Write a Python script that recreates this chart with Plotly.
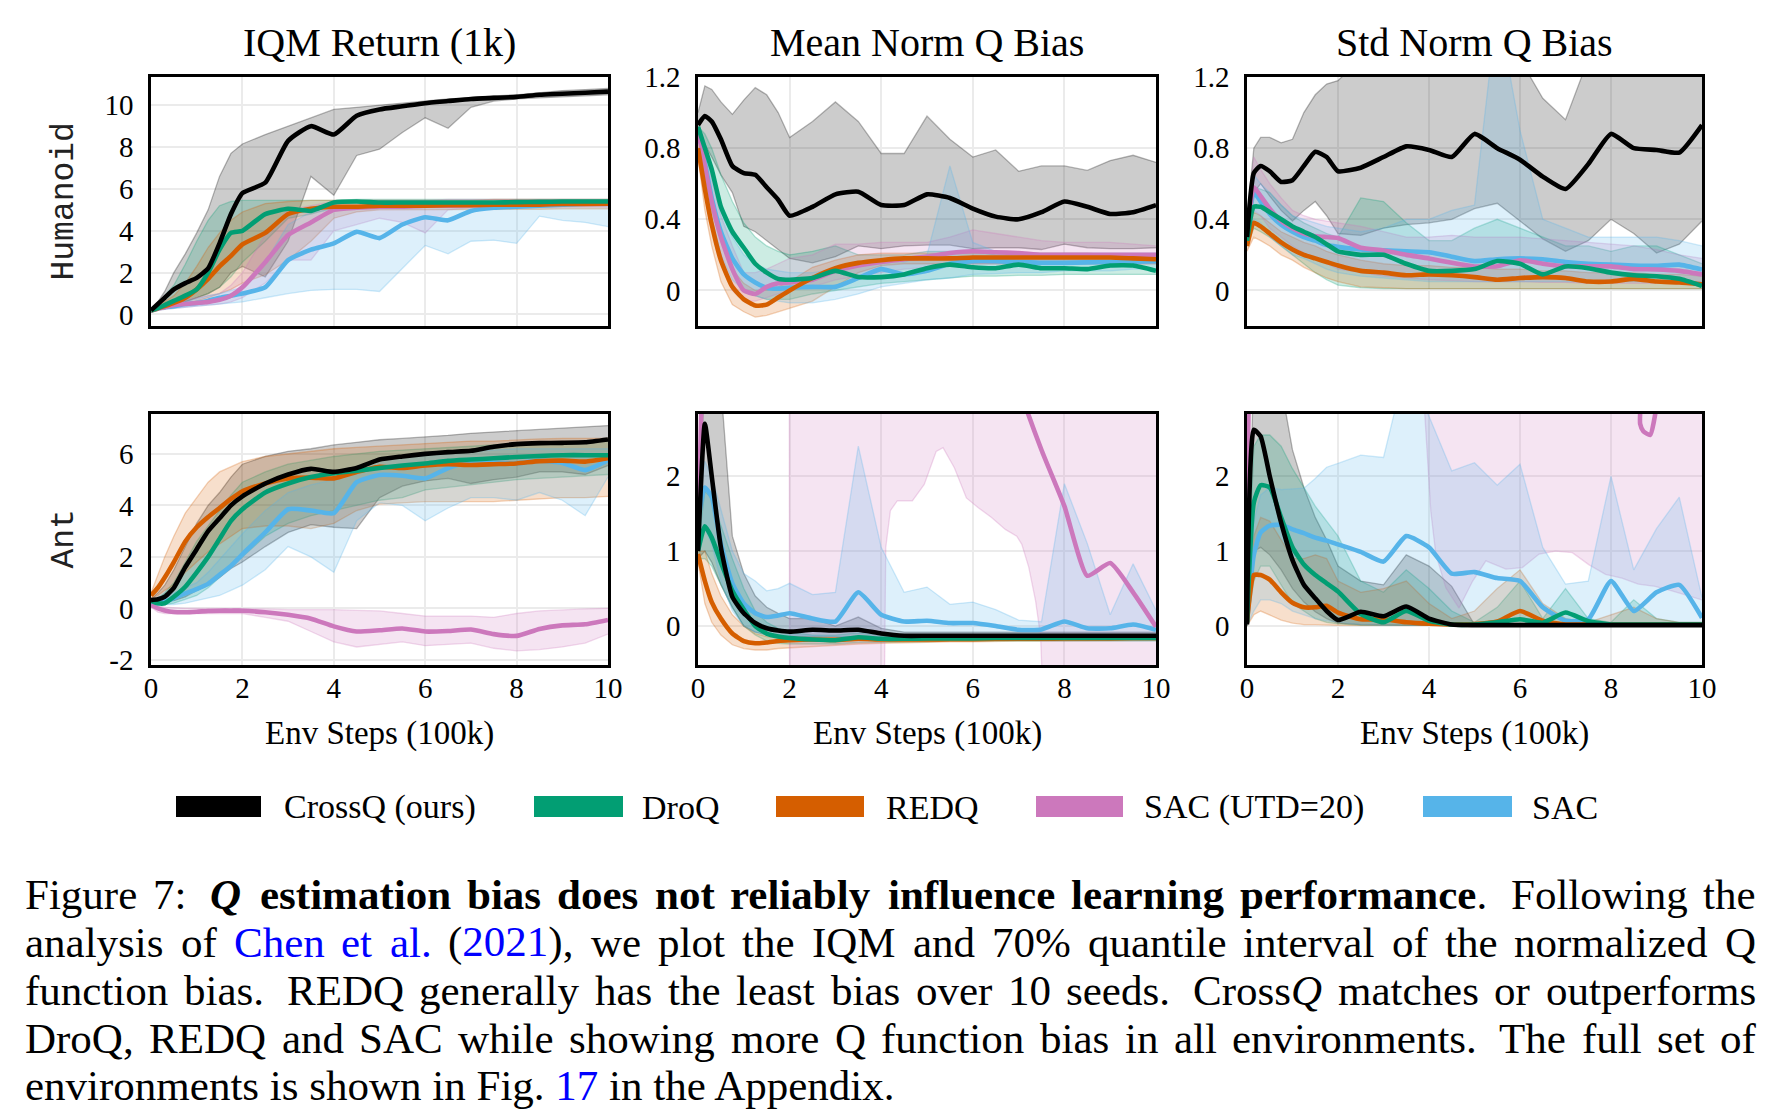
import plotly.graph_objects as go

# ---------------- shared x grid (Env Steps, 100k) ----------------
X = [0, 0.15, 0.3, 0.5, 0.75, 1.0, 1.25, 1.5, 1.75, 2.0, 2.5, 3.0, 3.5, 4.0, 4.5,
     5.0, 5.5, 6.0, 6.5, 7.0, 7.5, 8.0, 8.5, 9.0, 9.5, 10.0]

SERIES = ["CrossQ (ours)", "DroQ", "REDQ", "SAC (UTD=20)", "SAC"]
COLORS = ["#000000", "#029e73", "#d55e00", "#cc78bc", "#56b4e9"]

COL_TITLES = ["IQM Return (1k)", "Mean Norm Q Bias", "Std Norm Q Bias"]
ROW_LABELS = ["Humanoid", "Ant"]
X_TITLE = "Env Steps (100k)"
X_TICKS = [0, 2, 4, 6, 8, 10]

# ---------------- Humanoid : IQM Return ----------------
HUM_RET_CROSSQ = [0.2, 0.5, 0.8, 1.2, 1.5, 1.75, 2.2, 3.4, 4.8, 5.8, 6.3, 8.3, 9.0, 8.6, 9.5, 9.8, 9.95, 10.1, 10.2, 10.3, 10.35, 10.4, 10.5, 10.55, 10.6, 10.65]
HUM_RET_CROSSQ_LO = [0.1, 0.2, 0.35, 0.5, 0.6, 0.8, 1.0, 1.3, 2.0, 2.3, 1.8, 3.5, 6.6, 5.7, 7.6, 7.9, 8.7, 9.4, 8.9, 9.9, 10.2, 10.3, 10.35, 10.4, 10.45, 10.5]
HUM_RET_CROSSQ_HI = [0.2, 0.6, 1.1, 2.0, 2.9, 3.9, 5.0, 6.6, 7.7, 8.15, 8.6, 9.0, 9.4, 9.8, 9.9, 10.0, 10.1, 10.2, 10.3, 10.35, 10.45, 10.5, 10.6, 10.7, 10.75, 10.8]
HUM_RET_DROQ = [0.2, 0.3, 0.45, 0.65, 0.9, 1.2, 2.0, 3.1, 3.9, 4.0, 4.8, 5.05, 4.95, 5.35, 5.4, 5.35, 5.35, 5.35, 5.35, 5.35, 5.35, 5.37, 5.38, 5.4, 5.4, 5.4]
HUM_RET_DROQ_LO = [0.1, 0.2, 0.3, 0.45, 0.6, 0.8, 1.0, 1.3, 1.8, 2.5, 3.5, 4.6, 4.8, 5.1, 5.2, 5.2, 5.2, 5.22, 5.22, 5.22, 5.22, 5.25, 5.25, 5.25, 5.25, 5.25]
HUM_RET_DROQ_HI = [0.2, 0.5, 0.9, 1.4, 2.4, 3.5, 4.5, 5.2, 5.4, 5.45, 5.45, 5.45, 5.45, 5.45, 5.5, 5.5, 5.5, 5.5, 5.5, 5.5, 5.5, 5.5, 5.5, 5.5, 5.5, 5.5]
HUM_RET_REDQ = [0.2, 0.3, 0.4, 0.55, 0.8, 1.2, 1.7, 2.3, 2.8, 3.35, 3.9, 4.8, 5.05, 5.15, 5.15, 5.2, 5.2, 5.2, 5.22, 5.22, 5.25, 5.25, 5.25, 5.28, 5.28, 5.3]
HUM_RET_REDQ_LO = [0.1, 0.2, 0.3, 0.4, 0.5, 0.65, 0.8, 1.0, 1.2, 1.5, 1.9, 2.6, 3.5, 4.6, 4.9, 5.0, 5.0, 5.0, 5.0, 5.02, 5.02, 5.03, 5.03, 5.05, 5.05, 5.05]
HUM_RET_REDQ_HI = [0.2, 0.4, 0.6, 0.9, 1.5, 2.3, 3.2, 3.9, 4.5, 4.9, 5.3, 5.4, 5.45, 5.45, 5.45, 5.45, 5.45, 5.45, 5.45, 5.45, 5.5, 5.5, 5.5, 5.5, 5.5, 5.5]
HUM_RET_SAC20 = [0.2, 0.3, 0.35, 0.45, 0.5, 0.55, 0.6, 0.7, 0.9, 1.3, 2.5, 3.8, 4.4, 5.0, 5.1, 5.15, 5.15, 5.2, 5.2, 5.22, 5.25, 5.28, 5.3, 5.32, 5.35, 5.35]
HUM_RET_SAC20_LO = [0.1, 0.2, 0.25, 0.3, 0.35, 0.4, 0.45, 0.5, 0.6, 0.8, 1.5, 2.6, 2.6, 4.0, 4.3, 4.6, 4.4, 3.9, 5.0, 5.1, 5.1, 5.12, 5.12, 5.15, 5.15, 5.15]
HUM_RET_SAC20_HI = [0.25, 0.4, 0.5, 0.6, 0.7, 0.8, 0.9, 1.0, 1.4, 2.0, 3.8, 5.0, 5.2, 5.4, 5.45, 5.45, 5.45, 5.45, 5.5, 5.5, 5.5, 5.5, 5.5, 5.5, 5.5, 5.5]
HUM_RET_SAC = [0.2, 0.3, 0.35, 0.4, 0.5, 0.55, 0.65, 0.8, 0.9, 1.0, 1.3, 2.6, 3.1, 3.4, 3.95, 3.65, 4.3, 4.65, 4.5, 4.95, 5.1, 5.15, 5.2, 5.25, 5.3, 5.3]
HUM_RET_SAC_LO = [0.1, 0.2, 0.25, 0.3, 0.35, 0.4, 0.45, 0.5, 0.55, 0.6, 0.8, 1.0, 1.15, 1.2, 1.2, 1.1, 2.2, 3.3, 2.9, 3.5, 3.55, 3.4, 4.7, 4.5, 4.4, 4.2]
HUM_RET_SAC_HI = [0.25, 0.35, 0.4, 0.5, 0.6, 0.75, 0.9, 1.0, 1.15, 1.3, 2.5, 4.3, 4.9, 5.0, 5.1, 5.2, 5.25, 5.3, 5.3, 5.35, 5.35, 5.4, 5.4, 5.4, 5.4, 5.4]

# ---------------- Humanoid : Mean Norm Q Bias ----------------
HUM_MEAN_CROSSQ = [0.93, 0.98, 0.95, 0.85, 0.7, 0.66, 0.65, 0.58, 0.51, 0.42, 0.47, 0.54, 0.555, 0.48, 0.48, 0.54, 0.52, 0.46, 0.415, 0.4, 0.44, 0.5, 0.47, 0.43, 0.44, 0.48]
HUM_MEAN_CROSSQ_LO = [0.88, 0.82, 0.75, 0.65, 0.55, 0.36, 0.33, 0.28, 0.23, 0.18, 0.155, 0.19, 0.25, 0.235, 0.25, 0.255, 0.255, 0.235, 0.24, 0.24, 0.23, 0.26, 0.24, 0.235, 0.235, 0.24]
HUM_MEAN_CROSSQ_HI = [1.0, 1.15, 1.13, 1.06, 0.99, 1.07, 1.14, 1.1, 1.0, 0.86, 0.95, 1.06, 0.95, 0.77, 0.77, 0.98, 0.85, 0.75, 0.79, 0.67, 0.7, 0.7, 0.675, 0.73, 0.76, 0.72]
HUM_MEAN_DROQ = [0.92, 0.8, 0.68, 0.47, 0.33, 0.24, 0.15, 0.1, 0.065, 0.06, 0.07, 0.11, 0.075, 0.075, 0.09, 0.125, 0.145, 0.13, 0.125, 0.145, 0.125, 0.125, 0.12, 0.14, 0.14, 0.11]
HUM_MEAN_DROQ_LO = [0.9, 0.7, 0.5, 0.3, 0.1, 0.0, -0.03, -0.05, -0.05, -0.05, -0.02, 0.0, 0.02, 0.04, 0.05, 0.06, 0.07, 0.08, 0.08, 0.085, 0.085, 0.09, 0.09, 0.09, 0.09, 0.09]
HUM_MEAN_DROQ_HI = [0.92, 0.88, 0.8, 0.65, 0.5, 0.38, 0.3, 0.25, 0.22, 0.2, 0.22, 0.25, 0.2, 0.2, 0.2, 0.22, 0.22, 0.22, 0.2, 0.2, 0.2, 0.19, 0.19, 0.19, 0.18, 0.18]
HUM_MEAN_REDQ = [0.8, 0.57, 0.37, 0.17, 0.02, -0.05, -0.085, -0.08, -0.04, 0.0, 0.07, 0.125, 0.155, 0.17, 0.18, 0.18, 0.18, 0.185, 0.185, 0.185, 0.185, 0.185, 0.185, 0.185, 0.18, 0.175]
HUM_MEAN_REDQ_LO = [0.75, 0.45, 0.25, 0.05, -0.08, -0.12, -0.15, -0.14, -0.12, -0.1, -0.06, 0.02, 0.1, 0.14, 0.15, 0.15, 0.15, 0.15, 0.15, 0.15, 0.15, 0.15, 0.15, 0.15, 0.15, 0.15]
HUM_MEAN_REDQ_HI = [0.82, 0.65, 0.45, 0.28, 0.12, 0.04, 0.0, 0.0, 0.02, 0.05, 0.13, 0.17, 0.2, 0.21, 0.21, 0.21, 0.21, 0.21, 0.21, 0.21, 0.21, 0.21, 0.21, 0.2, 0.2, 0.2]
HUM_MEAN_SAC20 = [0.9, 0.7, 0.5, 0.3, 0.12, 0.0, -0.02, 0.02, 0.04, 0.045, 0.06, 0.11, 0.14, 0.16, 0.175, 0.19, 0.21, 0.22, 0.215, 0.21, 0.2, 0.2, 0.2, 0.2, 0.2, 0.2]
HUM_MEAN_SAC20_LO = [0.88, 0.6, 0.4, 0.2, 0.0, -0.06, -0.06, -0.04, -0.02, 0.0, 0.02, 0.06, 0.08, 0.1, 0.12, 0.13, 0.14, 0.15, 0.15, 0.15, 0.15, 0.15, 0.15, 0.15, 0.15, 0.15]
HUM_MEAN_SAC20_HI = [0.92, 0.8, 0.62, 0.42, 0.25, 0.1, 0.1, 0.12, 0.15, 0.18, 0.2, 0.26, 0.26, 0.27, 0.27, 0.27, 0.3, 0.34, 0.32, 0.3, 0.28, 0.27, 0.27, 0.27, 0.26, 0.25]
HUM_MEAN_SAC = [0.9, 0.72, 0.52, 0.33, 0.18, 0.09, 0.045, 0.015, 0.01, 0.015, 0.02, 0.02, 0.07, 0.12, 0.09, 0.11, 0.15, 0.165, 0.165, 0.16, 0.155, 0.155, 0.158, 0.16, 0.162, 0.165]
HUM_MEAN_SAC_LO = [0.88, 0.6, 0.4, 0.2, 0.06, 0.0, -0.03, -0.05, -0.06, -0.07, -0.07, -0.05, -0.02, 0.02, 0.04, 0.06, 0.07, 0.09, 0.095, 0.1, 0.1, 0.11, 0.11, 0.11, 0.12, 0.12]
HUM_MEAN_SAC_HI = [0.92, 0.82, 0.65, 0.45, 0.3, 0.2, 0.15, 0.12, 0.11, 0.1, 0.1, 0.12, 0.15, 0.18, 0.16, 0.2, 0.7, 0.27, 0.22, 0.21, 0.21, 0.21, 0.21, 0.21, 0.21, 0.21]

# ---------------- Humanoid : Std Norm Q Bias ----------------
HUM_STD_CROSSQ = [0.3, 0.66, 0.7, 0.67, 0.61, 0.62, 0.7, 0.78, 0.75, 0.67, 0.69, 0.75, 0.81, 0.79, 0.75, 0.88, 0.8, 0.735, 0.64, 0.57, 0.71, 0.88, 0.8, 0.79, 0.775, 0.93]
HUM_STD_CROSSQ_LO = [0.25, 0.55, 0.6, 0.53, 0.45, 0.39, 0.45, 0.5, 0.42, 0.32, 0.31, 0.35, 0.37, 0.38, 0.4, 0.46, 0.49, 0.39, 0.29, 0.22, 0.28, 0.4, 0.32, 0.21, 0.26, 0.39]
HUM_STD_CROSSQ_HI = [0.4, 0.8, 0.86, 0.86, 0.83, 0.85, 1.0, 1.1, 1.16, 1.18, 1.3, 1.3, 1.3, 1.3, 1.3, 1.3, 1.3, 1.3, 1.08, 0.96, 1.3, 1.3, 1.3, 1.3, 1.3, 1.3]
HUM_STD_DROQ = [0.28, 0.47, 0.47, 0.44, 0.4, 0.36, 0.33, 0.3, 0.26, 0.22, 0.2, 0.2, 0.15, 0.11, 0.11, 0.12, 0.165, 0.15, 0.09, 0.135, 0.125, 0.1, 0.085, 0.08, 0.065, 0.025]
HUM_STD_DROQ_LO = [0.25, 0.35, 0.33, 0.3, 0.25, 0.2, 0.15, 0.1, 0.06, 0.03, 0.015, 0.01, 0.01, 0.01, 0.01, 0.01, 0.01, 0.01, 0.01, 0.01, 0.01, 0.01, 0.01, 0.01, 0.01, 0.01]
HUM_STD_DROQ_HI = [0.3, 0.58, 0.57, 0.55, 0.48, 0.42, 0.38, 0.35, 0.32, 0.3, 0.52, 0.5, 0.38, 0.28, 0.28, 0.35, 0.4, 0.35, 0.3, 0.25, 0.25, 0.22, 0.25, 0.25, 0.2, 0.15]
HUM_STD_REDQ = [0.25, 0.38, 0.36, 0.32, 0.27, 0.23, 0.2, 0.18, 0.16, 0.14, 0.11, 0.1, 0.085, 0.09, 0.085, 0.075, 0.06, 0.07, 0.075, 0.07, 0.05, 0.05, 0.065, 0.05, 0.045, 0.035]
HUM_STD_REDQ_LO = [0.22, 0.3, 0.28, 0.25, 0.2, 0.17, 0.13, 0.1, 0.07, 0.05, 0.02, 0.015, 0.01, 0.01, 0.01, 0.01, 0.01, 0.01, 0.01, 0.01, 0.01, 0.01, 0.01, 0.01, 0.01, 0.01]
HUM_STD_REDQ_HI = [0.27, 0.44, 0.42, 0.38, 0.33, 0.3, 0.27, 0.25, 0.22, 0.2, 0.17, 0.15, 0.14, 0.14, 0.13, 0.13, 0.12, 0.12, 0.11, 0.11, 0.1, 0.1, 0.1, 0.09, 0.09, 0.08]
HUM_STD_SAC20 = [0.3, 0.58, 0.53, 0.46, 0.39, 0.35, 0.32, 0.305, 0.3, 0.295, 0.24, 0.225, 0.2, 0.18, 0.155, 0.135, 0.136, 0.17, 0.15, 0.136, 0.136, 0.135, 0.12, 0.118, 0.11, 0.09]
HUM_STD_SAC20_LO = [0.25, 0.45, 0.42, 0.35, 0.3, 0.25, 0.21, 0.18, 0.15, 0.12, 0.1, 0.08, 0.07, 0.06, 0.055, 0.05, 0.05, 0.05, 0.045, 0.045, 0.04, 0.04, 0.04, 0.04, 0.04, 0.04]
HUM_STD_SAC20_HI = [0.35, 0.75, 0.68, 0.6, 0.52, 0.45, 0.42, 0.4, 0.39, 0.38, 0.36, 0.33, 0.3, 0.3, 0.31, 0.3, 0.3, 0.3, 0.29, 0.28, 0.27, 0.26, 0.25, 0.23, 0.2, 0.18]
HUM_STD_SAC = [0.3, 0.55, 0.5, 0.43, 0.37, 0.33, 0.3, 0.28, 0.255, 0.245, 0.23, 0.225, 0.22, 0.215, 0.19, 0.165, 0.175, 0.18, 0.175, 0.16, 0.15, 0.145, 0.14, 0.138, 0.145, 0.117]
HUM_STD_SAC_LO = [0.25, 0.4, 0.38, 0.3, 0.25, 0.2, 0.18, 0.15, 0.12, 0.1, 0.08, 0.07, 0.06, 0.05, 0.05, 0.05, 0.05, 0.05, 0.05, 0.05, 0.05, 0.05, 0.05, 0.05, 0.05, 0.05]
HUM_STD_SAC_HI = [0.35, 0.65, 0.6, 0.55, 0.48, 0.42, 0.4, 0.38, 0.36, 0.35, 0.33, 0.35, 0.4, 0.4, 0.45, 0.48, 1.6, 0.9, 0.4, 0.35, 0.3, 0.3, 0.3, 0.3, 0.28, 0.25]

# ---------------- Ant : IQM Return ----------------
ANT_RET_CROSSQ = [0.32, 0.35, 0.45, 0.8, 1.6, 2.3, 3.0, 3.5, 4.0, 4.35, 4.85, 5.2, 5.42, 5.3, 5.45, 5.78, 5.9, 6.0, 6.07, 6.12, 6.28, 6.38, 6.42, 6.43, 6.45, 6.56]
ANT_RET_CROSSQ_LO = [0.3, 0.25, 0.28, 0.3, 0.45, 0.7, 0.9, 1.2, 1.55, 1.8, 2.4, 2.95, 3.25, 3.15, 3.1, 4.3, 4.75, 4.95, 5.05, 4.85, 5.0, 5.1, 5.3, 5.3, 5.2, 5.55]
ANT_RET_CROSSQ_HI = [0.35, 0.6, 0.9, 1.5, 2.4, 3.3, 4.0, 4.5, 5.1, 5.6, 5.9, 6.1, 6.2, 6.35, 6.45, 6.55, 6.6, 6.65, 6.72, 6.8, 6.85, 6.9, 6.95, 7.0, 7.05, 7.1]
ANT_RET_DROQ = [0.3, 0.2, 0.2, 0.45, 0.84, 1.4, 2.0, 2.7, 3.4, 3.85, 4.5, 4.85, 5.1, 5.25, 5.35, 5.45, 5.55, 5.63, 5.73, 5.78, 5.83, 5.88, 5.92, 5.95, 5.95, 5.95]
ANT_RET_DROQ_LO = [0.25, 0.15, 0.15, 0.2, 0.35, 0.5, 0.8, 1.2, 1.6, 2.0, 2.8, 3.3, 3.6, 3.8, 4.0, 4.2, 4.3, 4.6, 4.7, 4.8, 4.9, 5.0, 5.05, 5.1, 5.15, 5.2]
ANT_RET_DROQ_HI = [0.3, 0.4, 0.6, 1.0, 1.8, 2.6, 3.2, 3.8, 4.4, 4.9, 5.3, 5.6, 5.75, 5.9, 6.0, 6.1, 6.15, 6.2, 6.25, 6.3, 6.35, 6.4, 6.42, 6.45, 6.48, 6.5]
ANT_RET_REDQ = [0.5, 0.8, 1.2, 1.8, 2.6, 3.15, 3.55, 3.9, 4.25, 4.55, 4.85, 5.05, 5.08, 5.05, 5.3, 5.5, 5.45, 5.55, 5.6, 5.57, 5.6, 5.63, 5.72, 5.74, 5.7, 5.83]
ANT_RET_REDQ_LO = [0.4, 0.5, 0.7, 0.9, 1.4, 1.8, 2.2, 2.5, 2.8, 3.1, 3.2, 3.2, 3.1, 3.3, 3.8, 4.05, 4.1, 4.15, 4.15, 4.15, 4.15, 4.2, 4.25, 4.3, 4.3, 4.35]
ANT_RET_REDQ_HI = [0.6, 1.3, 2.0, 2.8, 3.7, 4.3, 4.9, 5.3, 5.5, 5.7, 5.9, 6.0, 6.1, 6.2, 6.25, 6.3, 6.35, 6.4, 6.45, 6.5, 6.5, 6.55, 6.58, 6.6, 6.6, 6.6]
ANT_RET_SAC20 = [0.13, 0.0, -0.08, -0.14, -0.15, -0.13, -0.1, -0.09, -0.09, -0.09, -0.15, -0.25, -0.4, -0.7, -0.9, -0.85, -0.78, -0.9, -0.88, -0.82, -1.0, -1.07, -0.8, -0.66, -0.62, -0.45]
ANT_RET_SAC20_LO = [0.05, -0.15, -0.2, -0.2, -0.2, -0.2, -0.2, -0.2, -0.2, -0.2, -0.35, -0.5, -0.9, -1.3, -1.5, -1.4, -1.3, -1.45, -1.4, -1.35, -1.55, -1.65, -1.6, -1.5, -1.35, -1.0]
ANT_RET_SAC20_HI = [0.2, 0.1, 0.05, 0.02, 0.0, 0.0, 0.0, 0.0, 0.0, 0.0, -0.02, -0.05, -0.05, -0.05, -0.08, -0.1, -0.2, -0.3, -0.3, -0.3, -0.35, -0.2, -0.1, -0.05, -0.02, 0.0]
ANT_RET_SAC = [0.2, 0.2, 0.26, 0.4, 0.58, 0.75, 0.95, 1.3, 1.65, 2.1, 2.95, 3.85, 3.8, 3.7, 4.9, 5.18, 5.15, 5.05, 5.45, 5.72, 5.66, 5.63, 5.74, 5.65, 5.37, 5.76]
ANT_RET_SAC_LO = [0.15, 0.15, 0.15, 0.15, 0.2, 0.3, 0.4, 0.5, 0.7, 0.9, 1.5, 2.4, 2.0, 1.4, 3.4, 4.1, 4.0, 3.4, 3.9, 4.3, 4.3, 4.2, 4.5, 4.2, 3.6, 5.1]
ANT_RET_SAC_HI = [0.25, 0.3, 0.45, 0.6, 0.8, 1.0, 1.4, 1.9, 2.4, 2.9, 3.8, 4.5, 4.8, 5.0, 5.5, 5.8, 5.9, 6.0, 6.05, 6.1, 6.15, 6.2, 6.2, 6.2, 6.2, 6.2]

# ---------------- Ant : Mean Norm Q Bias ----------------
ANT_MEAN_CROSSQ = [1.0, 2.7, 2.0, 1.05, 0.39, 0.17, 0.04, -0.03, -0.06, -0.075, -0.05, -0.06, -0.05, -0.1, -0.13, -0.13, -0.13, -0.13, -0.13, -0.13, -0.13, -0.13, -0.13, -0.13, -0.13, -0.13]
ANT_MEAN_CROSSQ_LO = [0.9, 1.0, 0.85, 0.55, 0.25, 0.0, -0.08, -0.12, -0.13, -0.14, -0.14, -0.15, -0.15, -0.15, -0.15, -0.15, -0.15, -0.15, -0.15, -0.15, -0.15, -0.15, -0.15, -0.15, -0.15, -0.15]
ANT_MEAN_CROSSQ_HI = [1.1, 3.5, 3.5, 3.2, 1.2, 0.7, 0.4, 0.25, 0.17, 0.1, 0.1, 0.0, 0.12, -0.03, -0.08, -0.08, -0.08, -0.08, -0.08, -0.08, -0.08, -0.08, -0.08, -0.08, -0.08, -0.08]
ANT_MEAN_DROQ = [1.0, 1.33, 1.18, 0.85, 0.47, 0.22, 0.0, -0.1, -0.14, -0.16, -0.18, -0.19, -0.15, -0.17, -0.17, -0.165, -0.165, -0.165, -0.16, -0.16, -0.16, -0.16, -0.16, -0.16, -0.16, -0.16]
ANT_MEAN_DROQ_LO = [0.9, 0.9, 0.8, 0.55, 0.25, 0.0, -0.12, -0.2, -0.23, -0.24, -0.24, -0.24, -0.22, -0.22, -0.21, -0.21, -0.2, -0.2, -0.2, -0.2, -0.2, -0.2, -0.2, -0.2, -0.2, -0.2]
ANT_MEAN_DROQ_HI = [1.05, 1.8, 1.7, 1.35, 0.9, 0.5, 0.2, 0.05, -0.03, -0.08, -0.12, -0.12, -0.09, -0.12, -0.12, -0.12, -0.12, -0.12, -0.12, -0.12, -0.12, -0.12, -0.12, -0.12, -0.12, -0.12]
ANT_MEAN_REDQ = [0.96, 0.6, 0.32, 0.1, -0.1, -0.2, -0.23, -0.22, -0.2, -0.19, -0.18, -0.185, -0.17, -0.18, -0.18, -0.18, -0.175, -0.175, -0.17, -0.17, -0.17, -0.165, -0.165, -0.165, -0.16, -0.16]
ANT_MEAN_REDQ_LO = [0.85, 0.3, 0.05, -0.12, -0.25, -0.3, -0.32, -0.32, -0.3, -0.29, -0.27, -0.26, -0.24, -0.23, -0.22, -0.22, -0.21, -0.21, -0.2, -0.2, -0.2, -0.2, -0.19, -0.19, -0.19, -0.19]
ANT_MEAN_REDQ_HI = [1.0, 1.0, 0.7, 0.4, 0.15, 0.0, -0.1, -0.14, -0.16, -0.16, -0.16, -0.16, -0.15, -0.15, -0.15, -0.15, -0.15, -0.14, -0.14, -0.14, -0.14, -0.14, -0.14, -0.14, -0.14, -0.14]
ANT_MEAN_SAC20 = [1.0, 5.0, 8.0, 9.0, 9.0, 9.0, 9.0, 9.0, 9.0, 9.0, 9.0, 9.0, 9.0, 8.0, 7.0, 6.0, 5.5, 5.0, 4.2, 3.2, 2.35, 1.6, 0.67, 0.84, 0.45, -0.01]
ANT_MEAN_SAC20_BAND_X = [0, 1.99, 2.0, 4.05, 4.1, 4.2, 4.35, 4.68, 4.94, 5.2, 5.35, 5.6, 5.86, 6.12, 6.41, 6.71, 6.96, 7.07, 7.22, 7.37, 7.48, 7.6, 10]
ANT_MEAN_SAC20_LO = [5, 5, -2, -2, 1.05, 1.54, 1.67, 1.67, 1.89, 2.33, 2.38, 2.11, 1.71, 1.58, 1.45, 1.29, 1.2, 1.09, 0.79, 0.34, -0.14, -2, -2]
ANT_MEAN_SAC20_HI = [9, 9, 9, 9, 9, 9, 9, 9, 9, 9, 9, 9, 9, 9, 9, 9, 9, 9, 9, 9, 9, 9, 9]
ANT_MEAN_SAC = [1.4, 1.85, 1.72, 1.1, 0.57, 0.3, 0.17, 0.12, 0.14, 0.17, 0.1, 0.06, 0.45, 0.15, 0.06, 0.07, 0.04, 0.04, 0.0, -0.05, -0.045, 0.06, -0.03, -0.03, 0.02, -0.05]
ANT_MEAN_SAC_LO = [1.2, 1.3, 1.1, 0.6, 0.2, 0.0, -0.08, -0.1, -0.12, -0.12, -0.13, -0.14, -0.14, -0.15, -0.15, -0.15, -0.15, -0.15, -0.15, -0.15, -0.15, -0.15, -0.15, -0.15, -0.15, -0.15]
ANT_MEAN_SAC_HI = [1.5, 2.2, 2.0, 1.55, 1.0, 0.7, 0.6, 0.47, 0.5, 0.57, 0.42, 0.45, 2.4, 1.05, 0.45, 0.52, 0.29, 0.32, 0.22, 0.08, 0.057, 1.9, 1.1, 0.15, 0.83, 0.21]

# ---------------- Ant : Std Norm Q Bias ----------------
ANT_STD_CROSSQ = [0.02, 2.62, 2.53, 2.0, 1.38, 0.88, 0.55, 0.37, 0.2, 0.08, 0.19, 0.13, 0.26, 0.1, 0.02, 0.012, 0.012, 0.012, 0.012, 0.012, 0.012, 0.012, 0.012, 0.012, 0.012, 0.012]
ANT_STD_CROSSQ_LO = [0.0, 1.0, 1.05, 0.95, 0.75, 0.5, 0.32, 0.19, 0.1, 0.04, 0.02, 0.01, 0.01, 0.01, 0.01, 0.01, 0.01, 0.01, 0.01, 0.01, 0.01, 0.01, 0.01, 0.01, 0.01, 0.01]
ANT_STD_CROSSQ_HI = [0.1, 3.5, 3.5, 3.4, 3.2, 2.35, 1.85, 1.45, 1.15, 0.8, 0.6, 0.55, 0.95, 0.8, 0.53, 0.02, 0.015, 0.015, 0.015, 0.015, 0.015, 0.015, 0.015, 0.015, 0.015, 0.015]
ANT_STD_DROQ = [0.05, 1.65, 1.88, 1.85, 1.45, 1.05, 0.82, 0.68, 0.57, 0.46, 0.16, 0.05, 0.2, 0.07, 0.02, 0.02, 0.05, 0.09, 0.045, 0.18, 0.065, 0.02, 0.02, 0.02, 0.02, 0.02]
ANT_STD_DROQ_LO = [0.0, 0.6, 0.8, 0.8, 0.55, 0.3, 0.2, 0.1, 0.05, 0.03, 0.01, 0.01, 0.01, 0.01, 0.01, 0.01, 0.01, 0.01, 0.01, 0.01, 0.01, 0.01, 0.01, 0.01, 0.01, 0.01]
ANT_STD_DROQ_HI = [0.2, 2.4, 2.55, 2.55, 2.4, 2.1, 1.85, 1.6, 1.4, 1.2, 0.6, 0.45, 0.75, 0.5, 0.2, 0.05, 0.25, 0.6, 0.1, 0.5, 0.1, 0.05, 0.35, 0.1, 0.05, 0.05]
ANT_STD_REDQ = [0.05, 0.68, 0.68, 0.62, 0.45, 0.31, 0.25, 0.25, 0.27, 0.18, 0.09, 0.09, 0.05, 0.03, 0.02, 0.025, 0.06, 0.2, 0.07, 0.02, 0.02, 0.02, 0.02, 0.02, 0.02, 0.02]
ANT_STD_REDQ_LO = [0.0, 0.15, 0.2, 0.15, 0.08, 0.04, 0.02, 0.02, 0.01, 0.01, 0.01, 0.01, 0.01, 0.01, 0.01, 0.01, 0.01, 0.01, 0.01, 0.01, 0.01, 0.01, 0.01, 0.01, 0.01, 0.01]
ANT_STD_REDQ_HI = [0.1, 1.2, 1.45, 1.4, 1.15, 0.9, 0.9, 0.95, 0.9, 0.6, 0.45, 0.5, 0.6, 0.3, 0.1, 0.2, 0.5, 0.75, 0.3, 0.1, 0.05, 0.15, 0.25, 0.1, 0.05, 0.05]
ANT_STD_SAC20_X = [0, 0.05, 0.15, 8.55, 8.64, 8.71, 8.86, 9.0, 9.1, 10]
ANT_STD_SAC20 = [1.5, 3.5, 6.0, 6.0, 2.7, 2.6, 2.55, 2.95, 6.0, 6.0]
ANT_STD_SAC20_BAND_X = [0, 3.85, 3.9, 4.04, 4.15, 4.37, 4.66, 4.96, 5.25, 5.69, 6.05, 6.42, 6.78, 7.15, 7.51, 7.88, 8.24, 8.6, 8.97, 9.34, 10]
ANT_STD_SAC20_LO = [5, 5, 2.9, 1.53, 0.96, 0.51, 0.24, 0.6, 0.87, 0.76, 0.78, 0.96, 1.0, 0.98, 0.82, 0.69, 0.64, 0.56, 0.53, 0.47, 0.35]
ANT_STD_SAC20_HI = [9, 9, 9, 9, 9, 9, 9, 9, 9, 9, 9, 9, 9, 9, 9, 9, 9, 9, 9, 9, 9]
ANT_STD_SAC = [0.05, 0.95, 1.25, 1.34, 1.35, 1.29, 1.24, 1.18, 1.14, 1.09, 0.99, 0.86, 1.2, 1.05, 0.7, 0.72, 0.64, 0.6, 0.25, 0.07, 0.09, 0.6, 0.2, 0.45, 0.55, 0.11]
ANT_STD_SAC_LO = [0.0, 0.2, 0.35, 0.35, 0.3, 0.2, 0.15, 0.1, 0.07, 0.05, 0.02, 0.01, 0.01, 0.01, 0.01, 0.01, 0.01, 0.01, 0.01, 0.01, 0.01, 0.01, 0.01, 0.01, 0.01, 0.01]
ANT_STD_SAC_HI = [0.1, 1.4, 1.75, 1.85, 1.82, 1.83, 1.84, 1.97, 2.12, 2.17, 2.28, 2.25, 3.5, 2.8, 2.07, 2.18, 1.88, 2.16, 1.05, 0.56, 0.6, 2.0, 0.75, 1.3, 1.72, 0.38]

# ---------------- caption (justified lines as word tokens; style r/b/bi/i, optional link colour) ----------------
LINK = "#0000ff"
CAPTION_LINES = [
    [[("Figure", "r")], [("7:", "r")], [("Q", "bi")], [("estimation", "b")], [("bias", "b")],
     [("does", "b")], [("not", "b")], [("reliably", "b")], [("influence", "b")], [("learning", "b")],
     [("performance", "b"), (".", "r")], [("Following", "r")], [("the", "r")]],
    [[("analysis", "r")], [("of", "r")], [("Chen", "r", LINK)], [("et", "r", LINK)], [("al.", "r", LINK)],
     [("(", "r"), ("2021", "r", LINK), ("),", "r")], [("we", "r")], [("plot", "r")], [("the", "r")],
     [("IQM", "r")], [("and", "r")], [("70%", "r")], [("quantile", "r")], [("interval", "r")],
     [("of", "r")], [("the", "r")], [("normalized", "r")], [("Q", "r")]],
    [[("function", "r")], [("bias.", "r")], [("REDQ", "r")], [("generally", "r")], [("has", "r")],
     [("the", "r")], [("least", "r")], [("bias", "r")], [("over", "r")], [("10", "r")], [("seeds.", "r")],
     [("Cross", "r"), ("Q", "i")], [("matches", "r")], [("or", "r")], [("outperforms", "r")]],
    [[("DroQ,", "r")], [("REDQ", "r")], [("and", "r")], [("SAC", "r")], [("while", "r")], [("showing", "r")],
     [("more", "r")], [("Q", "r")], [("function", "r")], [("bias", "r")], [("in", "r")], [("all", "r")],
     [("environments.", "r")], [("The", "r")], [("full", "r")], [("set", "r")], [("of", "r")]],
]
CAPTION_LAST = "environments is shown in Fig. <span style='color:#0000ff'>17</span> in the Appendix."

# Times-compatible advance widths (per 1000 em) used to justify the caption lines
_LC = "abcdefghijklmnopqrstuvwxyz"
_UC = "ABCDEFGHIJKLMNOPQRSTUVWXYZ"
TNR_R = dict(zip(_LC, [444, 500, 444, 500, 444, 333, 500, 500, 278, 278, 500, 278, 778, 500, 500, 500, 500, 333,
                       389, 278, 500, 500, 722, 500, 500, 444]))
TNR_R.update(dict(zip(_UC, [722, 667, 667, 722, 611, 556, 722, 722, 333, 389, 722, 611, 889, 722, 722, 556, 722,
                            667, 556, 611, 722, 722, 944, 722, 722, 611])))
TNR_R.update({d: 500 for d in "0123456789"})
TNR_R.update({".": 250, ",": 250, ":": 278, "(": 333, ")": 333, "%": 833, " ": 250})
TNR_B = dict(zip(_LC, [500, 556, 444, 556, 444, 333, 500, 556, 278, 333, 556, 278, 833, 556, 500, 556, 556, 444,
                       389, 333, 556, 500, 722, 500, 500, 444]))
TNR_B.update({".": 250, "Q": 778})

# ---------------- figure assembly ----------------
W, H = 1782, 1118
SERIF = "Liberation Serif, Times New Roman, serif"
MONO = "Liberation Mono, Courier New, monospace"
COL_PX = [(151, 608), (698, 1156), (1247, 1702)]
ROW_PX = [(77, 326), (414, 665)]
CAP_FONT = 43
CAP_LEFT, CAP_RIGHT = 25, 1756
CAP_Y = [894, 942, 990, 1038, 1085]


def fx(p):
    return p / W


def fy(p):
    return 1 - p / H


def rgba(hexc, a):
    h = hexc.lstrip("#")
    return "rgba(%d,%d,%d,%s)" % (int(h[0:2], 16), int(h[2:4], 16), int(h[4:6], 16), a)


def S(mean, lo, hi, line_x=None, band_x=None):
    return dict(mean=mean, lo=lo, hi=hi, line_x=line_x or X, band_x=band_x or X)


def seg_width(text, style):
    tab = TNR_B if style in ("b", "bi") else TNR_R
    return sum(tab.get(ch, TNR_R.get(ch, 500)) for ch in text) / 1000.0 * CAP_FONT


def seg_html(seg):
    text, style = seg[0], seg[1]
    if style == "b":
        text = "<b>%s</b>" % text
    elif style == "bi":
        text = "<b><i>%s</i></b>" % text
    elif style == "i":
        text = "<i>%s</i>" % text
    if len(seg) > 2:
        text = "<span style='color:%s'>%s</span>" % (seg[2], text)
    return text


PANELS = [
    dict(row=0, col=0, yrange=[-0.55, 11.35], yticks=[0, 2, 4, 6, 8, 10], ytext=["0", "2", "4", "6", "8", "10"],
         series=[S(HUM_RET_CROSSQ, HUM_RET_CROSSQ_LO, HUM_RET_CROSSQ_HI),
                 S(HUM_RET_DROQ, HUM_RET_DROQ_LO, HUM_RET_DROQ_HI),
                 S(HUM_RET_REDQ, HUM_RET_REDQ_LO, HUM_RET_REDQ_HI),
                 S(HUM_RET_SAC20, HUM_RET_SAC20_LO, HUM_RET_SAC20_HI),
                 S(HUM_RET_SAC, HUM_RET_SAC_LO, HUM_RET_SAC_HI)]),
    dict(row=0, col=1, yrange=[-0.2, 1.2], yticks=[0, 0.4, 0.8, 1.2], ytext=["0", "0.4", "0.8", "1.2"],
         series=[S(HUM_MEAN_CROSSQ, HUM_MEAN_CROSSQ_LO, HUM_MEAN_CROSSQ_HI),
                 S(HUM_MEAN_DROQ, HUM_MEAN_DROQ_LO, HUM_MEAN_DROQ_HI),
                 S(HUM_MEAN_REDQ, HUM_MEAN_REDQ_LO, HUM_MEAN_REDQ_HI),
                 S(HUM_MEAN_SAC20, HUM_MEAN_SAC20_LO, HUM_MEAN_SAC20_HI),
                 S(HUM_MEAN_SAC, HUM_MEAN_SAC_LO, HUM_MEAN_SAC_HI)]),
    dict(row=0, col=2, yrange=[-0.2, 1.2], yticks=[0, 0.4, 0.8, 1.2], ytext=["0", "0.4", "0.8", "1.2"],
         series=[S(HUM_STD_CROSSQ, HUM_STD_CROSSQ_LO, HUM_STD_CROSSQ_HI),
                 S(HUM_STD_DROQ, HUM_STD_DROQ_LO, HUM_STD_DROQ_HI),
                 S(HUM_STD_REDQ, HUM_STD_REDQ_LO, HUM_STD_REDQ_HI),
                 S(HUM_STD_SAC20, HUM_STD_SAC20_LO, HUM_STD_SAC20_HI),
                 S(HUM_STD_SAC, HUM_STD_SAC_LO, HUM_STD_SAC_HI)]),
    dict(row=1, col=0, yrange=[-2.2, 7.55], yticks=[-2, 0, 2, 4, 6], ytext=["-2", "0", "2", "4", "6"],
         series=[S(ANT_RET_CROSSQ, ANT_RET_CROSSQ_LO, ANT_RET_CROSSQ_HI),
                 S(ANT_RET_DROQ, ANT_RET_DROQ_LO, ANT_RET_DROQ_HI),
                 S(ANT_RET_REDQ, ANT_RET_REDQ_LO, ANT_RET_REDQ_HI),
                 S(ANT_RET_SAC20, ANT_RET_SAC20_LO, ANT_RET_SAC20_HI),
                 S(ANT_RET_SAC, ANT_RET_SAC_LO, ANT_RET_SAC_HI)]),
    dict(row=1, col=1, yrange=[-0.52, 2.83], yticks=[0, 1, 2], ytext=["0", "1", "2"],
         series=[S(ANT_MEAN_CROSSQ, ANT_MEAN_CROSSQ_LO, ANT_MEAN_CROSSQ_HI),
                 S(ANT_MEAN_DROQ, ANT_MEAN_DROQ_LO, ANT_MEAN_DROQ_HI),
                 S(ANT_MEAN_REDQ, ANT_MEAN_REDQ_LO, ANT_MEAN_REDQ_HI),
                 S(ANT_MEAN_SAC20, ANT_MEAN_SAC20_LO, ANT_MEAN_SAC20_HI, band_x=ANT_MEAN_SAC20_BAND_X),
                 S(ANT_MEAN_SAC, ANT_MEAN_SAC_LO, ANT_MEAN_SAC_HI)]),
    dict(row=1, col=2, yrange=[-0.52, 2.83], yticks=[0, 1, 2], ytext=["0", "1", "2"],
         series=[S(ANT_STD_CROSSQ, ANT_STD_CROSSQ_LO, ANT_STD_CROSSQ_HI),
                 S(ANT_STD_DROQ, ANT_STD_DROQ_LO, ANT_STD_DROQ_HI),
                 S(ANT_STD_REDQ, ANT_STD_REDQ_LO, ANT_STD_REDQ_HI),
                 S(ANT_STD_SAC20, ANT_STD_SAC20_LO, ANT_STD_SAC20_HI, line_x=ANT_STD_SAC20_X,
                   band_x=ANT_STD_SAC20_BAND_X),
                 S(ANT_STD_SAC, ANT_STD_SAC_LO, ANT_STD_SAC_HI)]),
]

fig = go.Figure()
layout = dict(width=W, height=H, margin=dict(l=0, r=0, t=0, b=0, autoexpand=False),
              paper_bgcolor="white", plot_bgcolor="white", showlegend=False,
              font=dict(family=SERIF, color="black"))

for k, p in enumerate(PANELS, start=1):
    xa = "x" if k == 1 else "x%d" % k
    ya = "y" if k == 1 else "y%d" % k
    c0, c1 = COL_PX[p["col"]]
    r0, r1 = ROW_PX[p["row"]]
    bottom = p["row"] == 1
    layout["xaxis" if k == 1 else "xaxis%d" % k] = dict(
        domain=[fx(c0), fx(c1)], anchor=ya, range=[0, 10], tickvals=X_TICKS,
        ticktext=[str(v) for v in X_TICKS], showticklabels=bottom, automargin=False,
        tickfont=dict(size=29, family=SERIF, color="black"), ticks="", ticklabelstandoff=-5,
        showgrid=True, gridcolor="#ebebeb", gridwidth=1.6, zeroline=False,
        showline=True, mirror=True, linecolor="black", linewidth=2.6)
    layout["yaxis" if k == 1 else "yaxis%d" % k] = dict(
        domain=[fy(r1), fy(r0)], anchor=xa, range=p["yrange"], tickvals=p["yticks"],
        ticktext=p["ytext"], tickfont=dict(size=29, family=SERIF, color="black"), ticks="",
        ticklabelstandoff=9, automargin=False, showgrid=True, gridcolor="#ebebeb", gridwidth=1.6,
        zeroline=False, showline=True, mirror=True, linecolor="black", linewidth=2.6)

    # quantile bands
    for s, ser in enumerate(p["series"]):
        col = COLORS[s]
        assert len(ser["lo"]) == len(ser["band_x"]) == len(ser["hi"]), (k, s)
        fig.add_trace(go.Scatter(x=ser["band_x"], y=ser["lo"], mode="lines", xaxis=xa, yaxis=ya,
                                 line=dict(color=rgba(col, 0.28), width=1.3), hoverinfo="skip",
                                 showlegend=False))
        fig.add_trace(go.Scatter(x=ser["band_x"], y=ser["hi"], mode="lines", xaxis=xa, yaxis=ya,
                                 line=dict(color=rgba(col, 0.28), width=1.3), fill="tonexty",
                                 fillcolor=rgba(col, 0.2), hoverinfo="skip", showlegend=False))
    # IQM lines (CrossQ drawn last / on top)
    for s in [4, 3, 2, 1, 0]:
        ser = p["series"][s]
        assert len(ser["mean"]) == len(ser["line_x"]), (k, s)
        fig.add_trace(go.Scatter(x=ser["line_x"], y=ser["mean"], mode="lines", xaxis=xa, yaxis=ya,
                                 name=SERIES[s], line=dict(color=COLORS[s], width=4.6, shape="spline",
                                                           smoothing=0.5),
                                 showlegend=False))

ann = []
shapes = []
for c, t in enumerate(COL_TITLES):
    c0, c1 = COL_PX[c]
    ann.append(dict(text=t, x=fx((c0 + c1) / 2), y=fy(43), xref="paper", yref="paper",
                    xanchor="center", yanchor="middle", showarrow=False,
                    font=dict(size=40, family=SERIF, color="black")))
    ann.append(dict(text=X_TITLE, x=fx((c0 + c1) / 2), y=fy(733), xref="paper", yref="paper",
                    xanchor="center", yanchor="middle", showarrow=False,
                    font=dict(size=33, family=SERIF, color="black")))
for r, t in enumerate(ROW_LABELS):
    r0, r1 = ROW_PX[r]
    ann.append(dict(text=t, x=fx(64), y=fy((r0 + r1) / 2), xref="paper", yref="paper",
                    xanchor="center", yanchor="middle", showarrow=False, textangle=-90,
                    font=dict(size=33, family=MONO, color="#222222")))

# legend (colour patches + names)
LEG_BOX = [(176, 261), (534, 623), (776, 864), (1036, 1123), (1423, 1512)]
LEG_TXT = [282, 640, 884, 1142, 1530]
for s, name in enumerate(SERIES):
    b0, b1 = LEG_BOX[s]
    shapes.append(dict(type="rect", xref="paper", yref="paper", x0=fx(b0), x1=fx(b1),
                       y0=fy(817), y1=fy(796), fillcolor=COLORS[s], line=dict(width=0)))
    ann.append(dict(text=name, x=fx(LEG_TXT[s]), y=fy(807), xref="paper", yref="paper",
                    xanchor="left", yanchor="middle", showarrow=False,
                    font=dict(size=34, family=SERIF, color="black")))

# caption: justified lines, word by word
for i, words in enumerate(CAPTION_LINES):
    widths = [sum(seg_width(sg[0], sg[1]) for sg in w) for w in words]
    weights = []
    for w in words[:-1]:
        last = w[-1][0]
        weights.append(1.45 if (last.endswith(".") or last.endswith(":")) and last != "al." else 1.0)
    gap = (CAP_RIGHT - CAP_LEFT - sum(widths)) / sum(weights)
    xpos = CAP_LEFT
    for j, w in enumerate(words):
        ann.append(dict(text="".join(seg_html(sg) for sg in w), x=fx(xpos - 2), y=fy(CAP_Y[i]),
                        xref="paper", yref="paper", xanchor="left", yanchor="middle", showarrow=False,
                        font=dict(size=CAP_FONT, family=SERIF, color="black")))
        if j < len(weights):
            xpos += widths[j] + gap * weights[j]
ann.append(dict(text=CAPTION_LAST, x=fx(CAP_LEFT - 2), y=fy(CAP_Y[4]), xref="paper", yref="paper",
                xanchor="left", yanchor="middle", showarrow=False, align="left",
                font=dict(size=CAP_FONT, family=SERIF, color="black")))

layout["annotations"] = ann
layout["shapes"] = shapes
fig.update_layout(**layout)
fig.write_html("out.html", config={"displayModeBar": False},
               post_script="document.body.style.margin='0px';document.body.style.overflow='hidden';")
